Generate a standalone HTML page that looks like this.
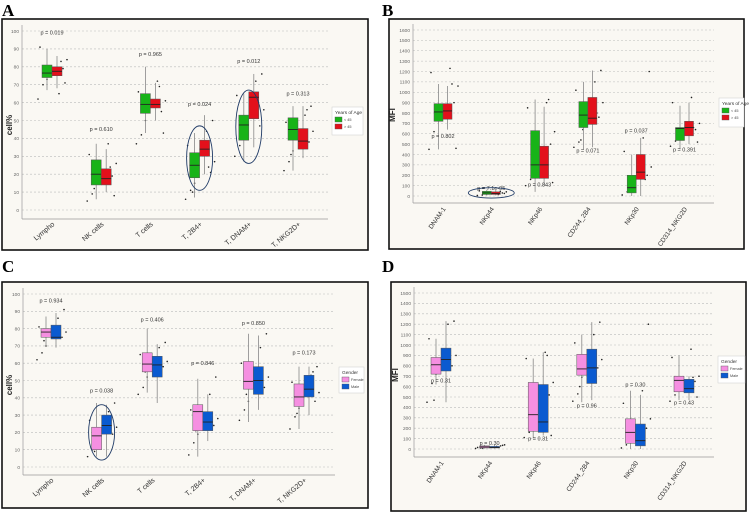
<!DOCTYPE html>
<html><head><meta charset="utf-8">
<style>
html,body{margin:0;padding:0;background:#fff;}
svg{display:block;font-family:"Liberation Sans",sans-serif;}
</style></head>
<body>
<svg id="fig" width="753" height="513" viewBox="0 0 753 513"></svg>
<script>
// ---------- DATA ----------
const cellCats = ["Lympho","NK cells","T cells","T, 2B4+","T, DNAM+","T, NKG2D+"];
const mfiCats = ["DNAM-1","NKp44","NKp46","CD244_2B4","NKp30","CD314_NKG2D"];
// box stats: [lowWhisker, q1, median, q3, highWhisker]
const aYoung = [[67,74,76.5,81,90],[6,14,20,28,37],[43,54,59,65,80],[7,18,25,32,43],[27,39,47.5,53,65],[22,39,45,51.5,58]];
const aOld   = [[68,75,77.5,80,86],[10,14,17.5,23,34],[50,57,59,62,71],[20,30,34,39,53],[35,51,63,66,76],[29,34,38.5,45.5,58]];
const aPText = ["p = 0.019","p = 0.610","p = 0.965","p = 0.024","p = 0.012","p = 0.313"];
const aPY    = [98,44,86,58,82,64];
const aPts   = [[62,70,73,79,84,91,65,71,80,83],[5,9,15,19,26,31,37,8,12,24],[37,42,50,55,61,66,72,43,57,69],[6,11,15,21,27,36,44,50,10,24],[30,36,41,47,56,64,72,76,40,52],[22,27,33,38,44,49,53,58,31,56]];
const bYoung = [[450,720,810,890,1080],[5,15,30,45,60],[40,170,300,630,930],[450,660,780,910,1100],[0,30,80,200,400],[450,535,650,660,870]];
const bOld   = [[640,740,820,890,1060],[5,15,25,40,60],[100,170,300,480,860],[470,690,750,950,1210],[0,160,230,400,560],[500,580,660,720,900]];
const bPText = ["p = 0.802","p = 7.1e-05","p = 0.843","p = 0.071","p = 0.037","p = 0.391"];
const bPY    = [560,60,90,420,610,430];
const bPts   = [[450,620,740,900,1060,1190,1230,460,830,1080],[5,10,20,30,40,50,15,25,35,45],[100,160,290,500,620,850,900,130,300,930],[470,520,640,760,900,1020,1100,1210,540,800],[10,40,120,200,280,430,560,1200,50,160],[480,530,560,640,700,900,950,520,600,660]];
const cFemale = [[70,75,78,80,87],[6,10,18,23,37],[43,55,59.5,66,80],[6,21,32,36,51],[26,45,49.5,61,77],[22,35,40.5,48,58]];
const cMale   = [[69,74,75,82,89],[6,19,24,30,36],[37,52,59,64,71],[15,21,26,32,42],[33,42,50,58,76],[30,40.5,45,53,58]];
const cPText = ["p = 0.934","p = 0.038","p = 0.406","p = 0.846","p = 0.850","p = 0.173"];
const cPY    = [95,43,84,59,82,65];
const cPts   = [[62,66,70,75,78,81,86,91,73,79],[6,10,14,19,23,27,32,37,9,25],[42,46,52,58,61,65,69,72,55,63],[7,14,19,24,28,33,42,52,21,30],[27,33,38,46,52,60,69,77,42,56],[22,29,34,38,43,49,53,58,31,55]];
const dFemale = [[620,720,810,880,1060],[5,10,20,30,40],[100,170,330,640,870],[450,710,770,910,1100],[0,55,160,290,560],[470,550,660,700,900]];
const dMale   = [[450,750,860,970,1230],[5,10,15,25,40],[130,160,260,620,930],[470,630,780,960,1220],[0,30,80,240,520],[470,540,580,670,700]];
const dPText = ["p = 0.31","p = 0.30","p = 0.31","p = 0.96","p = 0.30","p = 0.43"];
const dPY    = [640,40,80,400,600,430];
const dPts   = [[450,630,720,800,900,1060,1200,1230,470,850],[5,10,20,30,40,15,25,35,8,18],[110,160,280,520,640,870,930,130,330,900],[460,530,690,780,860,1020,1100,1220,600,760],[10,40,120,200,290,440,560,1200,60,160],[460,520,580,650,700,880,960,500,620,690]];
const yTicksCell = [0,10,20,30,40,50,60,70,80,90,100];
const yTicksB = [0,100,200,300,400,500,600,700,800,900,1000,1100,1200,1300,1400,1500,1600];
const yTicksD = [0,100,200,300,400,500,600,700,800,900,1000,1100,1200,1300,1400,1500];

// ---------- DRAW ----------
const NS="http://www.w3.org/2000/svg";
const svg=document.getElementById('fig');
function mk(tag,attrs,parent,text){const e=document.createElementNS(NS,tag);for(const k in attrs)e.setAttribute(k,attrs[k]);if(text!==undefined)e.textContent=text;(parent||svg).appendChild(e);return e;}
const jit=[-14,-9,-5,11,15,-12,7,13,-7,9];

function panel(p){
  const g=mk('g',{});
  
  
  const lab=mk('text',{x:p.lx,y:p.ly,'font-family':'Liberation Serif,serif','font-weight':'bold','font-size':17,fill:'#000'},g,p.letter);
  
  
  const fr=mk('rect',{x:p.bx0,y:p.by0,width:p.bx1-p.bx0,height:p.by1-p.by0,fill:'#faf8f3',stroke:'#111','stroke-width':1.6},g);
  
  
  const Y=v=>p.y0+(v-p.vmin)/(p.vmax-p.vmin)*(p.y1-p.y0);
  const X=i=>p.cx0+i*p.step;
  p.ticks.forEach(t=>{
    const gl=mk('line',{x1:p.ax,x2:p.axR,y1:Y(t),y2:Y(t),stroke:'#bbb','stroke-width':0.6,'stroke-dasharray':'2,2'},g);
    
    
    const tl=mk('text',{x:p.ax-3,y:Y(t)+1.8,'font-size':4.8,fill:'#666','text-anchor':'end'},g,t);
    
    
  });
  const ya=mk('line',{x1:p.ax,x2:p.ax,y1:Y(p.ticks[p.ticks.length-1])-6,y2:p.axY,stroke:'#999','stroke-width':0.7},g);
  
  
  const xa=mk('line',{x1:p.ax,x2:p.axR,y1:p.axY,y2:p.axY,stroke:'#999','stroke-width':0.7},g);
  
  
  const yt=mk('text',{x:0,y:0,transform:`translate(${p.ylx},${p.yly}) rotate(-90)`,'font-size':8,'font-weight':'bold',fill:'#222','text-anchor':'middle'},g,p.ytitle);
  
  
  p.cats.forEach((c,i)=>{
    const cx=X(i);
    p.pts[i].forEach((v,j)=>{
      const pt=mk('circle',{cx:cx+jit[j%jit.length],cy:Y(v),r:0.8,fill:'#222'},g);
      
      
    });
    [p.s1[i],p.s2[i]].forEach((s,k)=>{
      const bx=cx+(k-1)*p.bw;const mx=bx+p.bw/2;
      const w=mk('line',{x1:mx,x2:mx,y1:Y(s[0]),y2:Y(s[4]),stroke:'#888','stroke-width':0.8},g);
      
      
      const b=mk('rect',{x:bx,y:Y(s[3]),width:p.bw,height:Math.max(0.8,Y(s[1])-Y(s[3])),fill:p.col[k],stroke:'#555','stroke-width':0.5},g);
      
      
      const m=mk('line',{x1:bx,x2:bx+p.bw,y1:Y(s[2]),y2:Y(s[2]),stroke:'#222','stroke-width':0.9},g);
      
      
    });
    const pv=mk('text',{x:cx,y:Y(p.pY[i]),'font-size':5.5,fill:'#333','text-anchor':'middle'},g,p.pText[i]);
    
    
    const xl=mk('text',{x:0,y:0,transform:`translate(${cx+3},${p.axY+6}) rotate(${p.rot})`,'font-size':p.xfs,fill:'#333','text-anchor':'end'},g,c);
    
    
  });
  p.ell.forEach(e=>{
    const cy=(Y(e[1])+Y(e[2]))/2, ry=Math.abs(Y(e[1])-Y(e[2]))/2;
    const el=mk('ellipse',{cx:X(e[0]),cy:cy,rx:e[3],ry:ry,fill:'none',stroke:'#1f3a66','stroke-width':0.9},g);
    
    
  });
  const L=p.legBox;
  const lg=mk('g',{},g);
  
  
  mk('rect',{x:L[0],y:L[1],width:L[2],height:L[3],fill:'#fff',stroke:'#ccc','stroke-width':0.5},lg);
  mk('text',{x:L[0]+3,y:L[1]+7,'font-size':4.8,fill:'#333'},lg,p.legTitle);
  p.leg.forEach((t,k)=>{
    const r=mk('rect',{x:L[0]+3,y:L[1]+10+k*7,width:7,height:5,fill:p.col[k],stroke:'#555','stroke-width':0.4},lg);
    
    
    mk('text',{x:L[0]+12,y:L[1]+14+k*7,'font-size':3.8,fill:'#444'},lg,t);
  });
}
const G=['#18b318','#e3101b'], S=['#f58fe1','#0a5ad0'];
panel({letter:'A',lx:2,ly:16,bx0:2,by0:19,bx1:368,by1:250,ax:22,axR:328,axY:219,y0:210,y1:31,vmin:0,vmax:100,ticks:yTicksCell,
  cx0:52,step:49.2,bw:10,cats:cellCats,s1:aYoung,s2:aOld,pText:aPText,pY:aPY,pts:aPts,col:G,rot:-40,xfs:7,ytitle:'cell%',ylx:12,yly:125,
  ell:[[3,11,47,13],[4,26,67,13]],legBox:[332,107,31,28],legTitle:'Years of Age',leg:['< 45','> 45']});
panel({letter:'B',lx:382,ly:16,bx0:389,by0:19,bx1:744,by1:249,ax:413,axR:714,axY:203,y0:196,y1:30,vmin:0,vmax:1600,ticks:yTicksB,
  cx0:443,step:48.3,bw:9,cats:mfiCats,s1:bYoung,s2:bOld,pText:bPText,pY:bPY,pts:bPts,col:G,rot:-55,xfs:6.5,ytitle:'MFI',ylx:395,yly:115,
  ell:[[1,-20,80,23]],legBox:[719,98,25,29],legTitle:'Years of Age',leg:['< 45','> 45']});
panel({letter:'C',lx:2,ly:272,bx0:2,by0:282,bx1:368,by1:508,ax:23,axR:335,axY:475,y0:467,y1:294,vmin:0,vmax:100,ticks:yTicksCell,
  cx0:51,step:50.6,bw:10,cats:cellCats,s1:cFemale,s2:cMale,pText:cPText,pY:cPY,pts:cPts,col:S,rot:-40,xfs:7,ytitle:'cell%',ylx:12,yly:385,
  ell:[[1,4,36,13]],legBox:[339,367,25,26],legTitle:'Gender',leg:['Female','Male']});
panel({letter:'D',lx:382,ly:272,bx0:391,by0:282,bx1:746,by1:511,ax:414,axR:714,axY:457,y0:449,y1:293,vmin:0,vmax:1500,ticks:yTicksD,
  cx0:441,step:48.6,bw:10,cats:mfiCats,s1:dFemale,s2:dMale,pText:dPText,pY:dPY,pts:dPts,col:S,rot:-55,xfs:6.5,ytitle:'MFI',ylx:398,yly:375,
  ell:[],legBox:[718,356,27,27],legTitle:'Gender',leg:['Female','Male']});
</script>
</body></html>
